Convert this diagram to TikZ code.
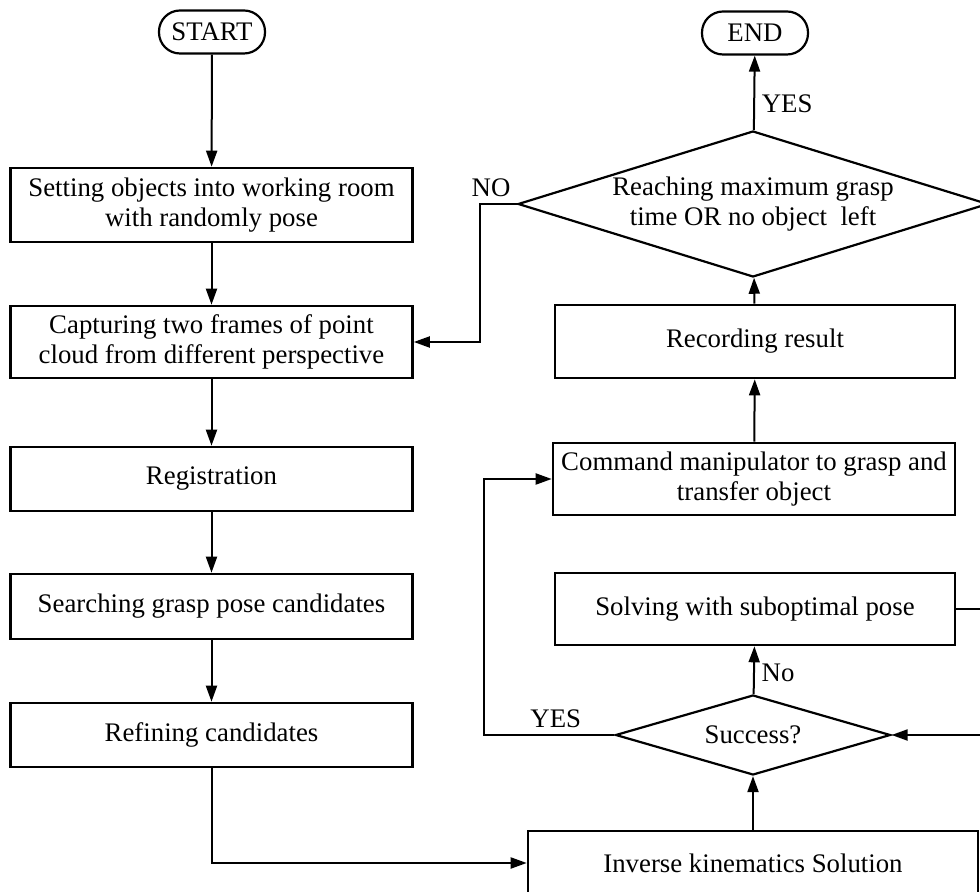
\documentclass[tikz,border=0pt]{standalone}
\usepackage{fontspec}
\setmainfont{Liberation Serif}
\usepackage{tikz}
\usetikzlibrary{arrows.meta, positioning, shapes.geometric, calc}

\begin{document}
\begin{tikzpicture}[x=0.5pt, y=-0.5pt,
    every node/.style={font=\fontsize{13.4pt}{14.6pt}\selectfont},
    procbox/.style={rectangle, draw, line width=1.3pt, align=center, inner sep=0pt, minimum width=201pt},
    termbox/.style={rectangle, draw, line width=1.1pt, rounded corners=10.5pt, minimum width=53pt, minimum height=21.5pt, inner sep=0pt},
    decbox/.style={diamond, draw, line width=1.1pt, align=center, inner sep=0pt},
    flow/.style={-{Triangle[length=8pt, width=5.5pt]}, line width=1pt}]
    \useasboundingbox (0,0) rectangle (980,892);
    % left column
    \node[termbox] (start) at (212,32) {START};
    \node[procbox, minimum height=37pt] (set) at (211.5,205) {Setting objects into working room\\with randomly pose};
    \node[procbox, minimum height=36pt] (cap) at (211.5,342) {Capturing two frames of point\\cloud from different perspective};
    \node[procbox, minimum height=32pt] (reg) at (211.5,479) {Registration};
    \node[procbox, minimum height=32.5pt] (search) at (211.5,606.5) {Searching grasp pose candidates};
    \node[procbox, minimum height=32pt] (refine) at (211.5,735) {Refining candidates};
    % right column
    \node[termbox] (end) at (755,33) {END};
    \node[decbox, aspect=3.2, minimum width=235pt, minimum height=73pt] (check) at (753,204) {Reaching maximum grasp\\time OR no object\ \ left};
    \node[procbox, minimum width=200pt, minimum height=36.5pt] (rec) at (755,341.5) {Recording result};
    \node[procbox, minimum height=36pt] (cmd) at (754,479) {Command manipulator to grasp and\\transfer object};
    \node[procbox, minimum width=200pt, minimum height=36pt] (solve) at (755,609) {Solving with suboptimal pose};
    \node[decbox, aspect=3.4, minimum width=137.5pt, minimum height=40pt] (succ) at (753,735) {Success?};
    \node[procbox, minimum width=225pt, minimum height=32pt] (ik) at (753,863) {Inverse kinematics Solution};
    \coordinate (nofold) at (480,204);
    \coordinate (yesfold) at (484,735);
    \coordinate (loopR) at (992,609);
    % connectors
    \draw[flow] (start) -- (set);
    \draw[flow] (set) -- (cap);
    \draw[flow] (cap) -- (reg);
    \draw[flow] (reg) -- (search);
    \draw[flow] (search) -- (refine);
    \draw[flow] (refine.south) |- (ik.west);
    \draw[flow] (ik) -- (succ);
    \draw[flow] (succ) -- node[right, pos=0.45] {No} (solve);
    \draw[flow] (succ.west) -- node[above, pos=0.45] {YES} (yesfold) |- (cmd.west);
    \draw[flow] (solve.east) -- (loopR) |- (succ.east);
    \draw[flow] (cmd) -- (rec);
    \draw[flow] (rec) -- (check);
    \draw[flow] (check) -- node[right, pos=0.35] {YES} (end);
    \draw[flow] (check.west) -- node[above, pos=0.7] {NO} (nofold) |- (cap.east);
\end{tikzpicture}
\end{document}
